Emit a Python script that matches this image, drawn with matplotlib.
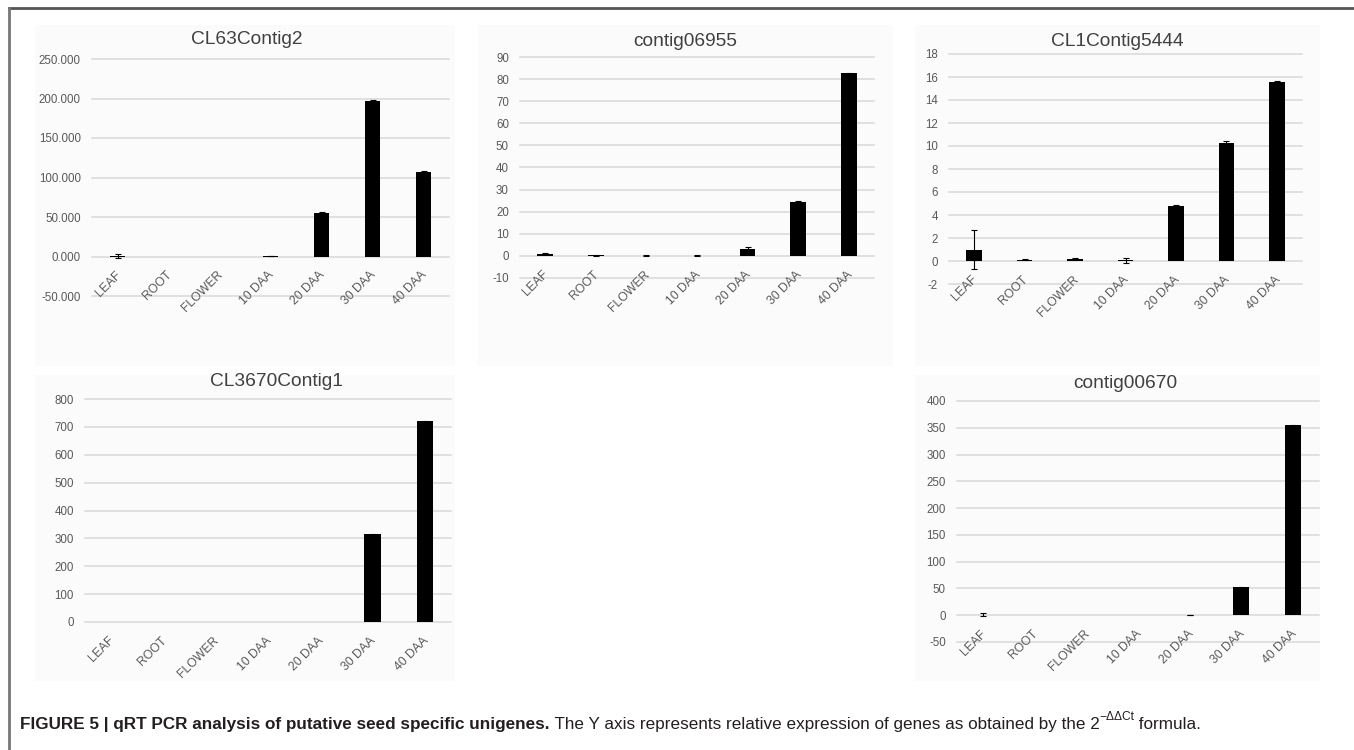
import matplotlib
matplotlib.use("Agg")
import matplotlib.pyplot as plt
from matplotlib import font_manager
from matplotlib.patches import Rectangle
from matplotlib.lines import Line2D
from matplotlib.ticker import FormatStrFormatter

W, H = 1354, 750
DPI = 100

categories = ["LEAF", "ROOT", "FLOWER", "10 DAA", "20 DAA", "30 DAA", "40 DAA"]

cl63_vals = [1.0, 0.0, 0.0, 0.4, 55.5, 197.0, 107.0]
cl63_err = [2.5, 0.0, 0.0, 0.3, 0.6, 0.8, 0.6]

c06955_vals = [1.0, 0.3, 0.1, 0.1, 3.1, 24.5, 82.6]
c06955_err = [0.2, 0.15, 0.1, 0.1, 0.9, 0.3, 0.2]

cl1_vals = [1.0, 0.1, 0.2, 0.05, 4.75, 10.25, 15.6]
cl1_err = [1.7, 0.05, 0.05, 0.2, 0.08, 0.2, 0.05]

cl3670_vals = [0.0, 0.0, 0.0, 0.0, 0.0, 314.0, 720.0]
cl3670_err = [0.0, 0.0, 0.0, 0.0, 0.0, 3.0, 2.0]

c00670_vals = [1.0, 0.0, 0.0, 0.0, 0.5, 52.0, 355.0]
c00670_err = [2.5, 0.0, 0.0, 0.0, 0.5, 1.0, 1.0]

TEXT_GREY = "#595959"
GRID_GREY = "#d9d9d9"

avail = {f.name for f in font_manager.fontManager.ttflist}
TICK_FONT = ["Liberation Sans", "DejaVu Sans"]
CAP_FONT = ["Liberation Sans Narrow" if "Liberation Sans Narrow" in avail else "Liberation Sans",
            "DejaVu Sans"]

fig = plt.figure(figsize=(W / DPI, H / DPI), dpi=DPI)
fig.patch.set_facecolor("white")


def px_axes(x0, y0, x1, y1):
    return fig.add_axes([x0 / W, 1 - y1 / H, (x1 - x0) / W, (y1 - y0) / H], zorder=2)


def backdrop(x0, y0, x1, y1):
    fig.add_artist(Rectangle((x0 / W, 1 - y1 / H), (x1 - x0) / W, (y1 - y0) / H,
                             transform=fig.transFigure, facecolor="#fbfbfb",
                             edgecolor="none", zorder=-5))


def panel(box, title, vals, errs, ymin, ymax, step, fmt, title_xy):
    x0, y0, x1, y1 = box
    ax = px_axes(x0, y0, x1, y1)
    ax.set_facecolor("none")
    ax.patch.set_alpha(0)
    ax.set_xlim(-0.5, len(categories) - 0.5)
    ax.set_ylim(ymin, ymax)
    ticks = [ymin + i * step for i in range(int(round((ymax - ymin) / step)) + 1)]
    ax.set_yticks(ticks)
    ax.yaxis.set_major_formatter(FormatStrFormatter(fmt))
    for t in ticks:
        ax.axhline(t, color=GRID_GREY, lw=1.1, zorder=1, clip_on=False)
    xs = list(range(len(categories)))
    ax.bar(xs, vals, width=0.31, color="black", zorder=3)
    # error bars only where a spread was measured
    ex = [i for i in xs if errs[i] > 0]
    ax.errorbar(ex, [vals[i] for i in ex], yerr=[errs[i] for i in ex], fmt="none",
                ecolor="black", elinewidth=0.8, capsize=2.5, capthick=0.8, zorder=4)
    for s in ax.spines.values():
        s.set_visible(False)
    ax.tick_params(axis="y", length=0, pad=8, labelsize=8.3, labelcolor=TEXT_GREY)
    for lab in ax.get_yticklabels():
        lab.set_fontfamily(TICK_FONT)
    ax.set_xticks([])
    # category labels hang from the zero line, rotated like a spreadsheet chart
    for i, c in enumerate(categories):
        ax.annotate(c, xy=(i, 0), xycoords="data", xytext=(-2, -9),
                    textcoords="offset points", rotation=45, ha="right", va="top",
                    rotation_mode="anchor", fontsize=8.8, color=TEXT_GREY,
                    family=TICK_FONT, annotation_clip=False)
    fig.text(title_xy[0] / W, 1 - title_xy[1] / H, title, ha="center", va="center",
             fontsize=13.8, color="#404040", family=["Liberation Sans", "DejaVu Sans"])
    return ax


backdrop(35, 25, 455, 366)
backdrop(478, 25, 893, 366)
backdrop(915, 25, 1320, 366)
backdrop(35, 375, 455, 681)
backdrop(915, 375, 1320, 681)

panel((92, 59, 449, 296), "CL63Contig2", cl63_vals, cl63_err, -50, 250, 50, "%.3f", (247, 39))
panel((520, 57, 874, 278), "contig06955", c06955_vals, c06955_err, -10, 90, 10, "%d", (685, 42))
panel((949, 54, 1302, 284), "CL1Contig5444", cl1_vals, cl1_err, -2, 18, 2, "%d", (1117, 41))
panel((85, 399, 451, 622), "CL3670Contig1", cl3670_vals, cl3670_err, 0, 800, 100, "%d", (276, 382))
panel((957, 401, 1319, 642), "contig00670", c00670_vals, c00670_err, -50, 400, 50, "%d", (1125, 384))

# figure frame: top rule and left rule
fig.add_artist(Line2D([9 / W, 1.0], [1 - 7.5 / H, 1 - 7.5 / H], transform=fig.transFigure,
                      color="#555555", lw=2.0))
fig.add_artist(Line2D([9 / W, 9 / W], [0.0, 1 - 7.5 / H], transform=fig.transFigure,
                      color="#777777", lw=2.0))

# caption, laid out piece by piece and sized to span the frame
parts = [
    ("FIGURE 5 | qRT PCR analysis of putative seed specific unigenes.", "bold", 1.0, 0.0),
    (" The Y axis represents relative expression of genes as obtained by the 2", "normal", 1.0, 0.0),
    ("\u2212\u0394\u0394Ct", "normal", 0.7, 0.55),
    (" formula.", "normal", 1.0, 0.0),
]
fig.canvas.draw()
renderer = fig.canvas.get_renderer()


def caption_width(size):
    total = 0.0
    for txt, weight, scale, _ in parts:
        t = fig.text(0, 0, txt, fontsize=size * scale, fontweight=weight, family=CAP_FONT)
        total += t.get_window_extent(renderer=renderer).width
        t.remove()
    return total


base = 10.0
cap_size = min(12.3, base * 1312.0 / caption_width(base))
cap_y = 1 - 729 / H
x = 20 / W
for txt, weight, scale, rise in parts:
    t = fig.text(x, cap_y + rise * cap_size * 1.389 / H, txt, ha="left", va="baseline",
                 fontsize=cap_size * scale, fontweight=weight, color="#231f20",
                 family=CAP_FONT)
    x += t.get_window_extent(renderer=renderer).width / W

fig.savefig("out.png", dpi=DPI, facecolor="white")
